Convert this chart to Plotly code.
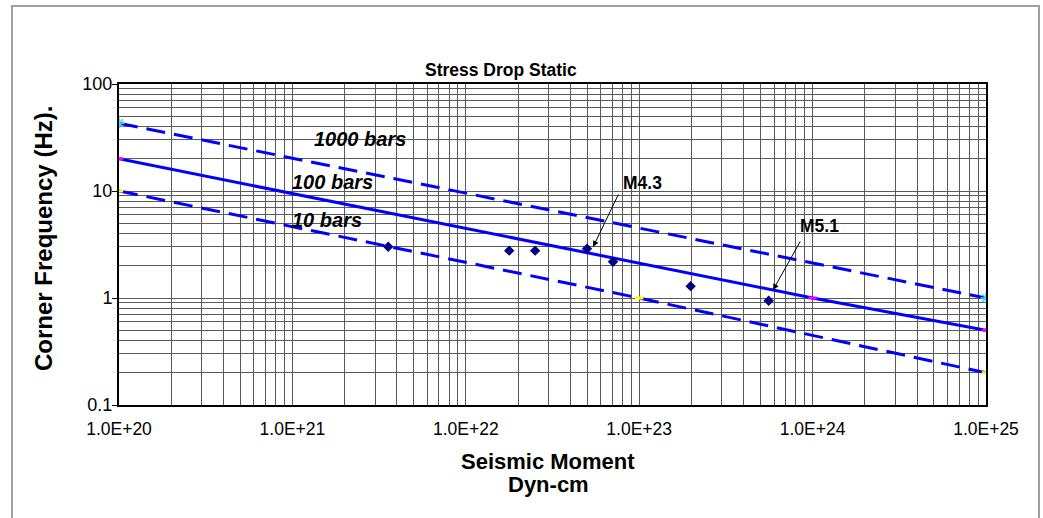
import plotly.graph_objects as go

# ---- data ----
x_1000 = [1e20, 1e25]
y_1000 = [43, 1]
x_100 = [1e20, 1e24, 1e25]
y_100 = [20, 1, 0.5]
x_10 = [1e20, 1e23, 1e25]
y_10 = [10, 1, 0.2]

moment = [3.57e21, 1.78e22, 2.51e22, 5.0e22, 7.06e22, 1.98e23, 5.58e23]
corner = [3.01, 2.77, 2.77, 2.89, 2.18, 1.29, 0.944]

x_tickvals = [1e20, 1e21, 1e22, 1e23, 1e24, 1e25]
x_ticktext = ["1.0E+20", "1.0E+21", "1.0E+22", "1.0E+23", "1.0E+24", "1.0E+25"]
y_tickvals = [0.1, 1, 10, 100]
y_ticktext = ["0.1", "1", "10", "100"]

FONT = "Liberation Sans, Arial, sans-serif"
BLUE = "#0000FF"

# plot-area geometry (px)
W, H = 1043, 518
L, R, T, B = 119, 986, 84, 405

def px_x(p):
    return (p - L) / (R - L)

def px_y(p):
    return (B - p) / (B - T)

fig = go.Figure()

fig.add_trace(go.Scatter(
    x=x_1000, y=y_1000, mode="lines+markers", name="1000 bars",
    line=dict(color=BLUE, width=3, dash="19px,9px"),
    marker=dict(symbol="asterisk-open", size=9, color="#33DDEE",
                line=dict(color="#33DDEE", width=1.5)),
))
fig.add_trace(go.Scatter(
    x=x_100, y=y_100, mode="lines+markers", name="100 bars",
    line=dict(color=BLUE, width=3),
    marker=dict(symbol="line-ew-open", size=6, color="#FF00FF",
                line=dict(color="#FF00FF", width=3)),
))
fig.add_trace(go.Scatter(
    x=x_10, y=y_10, mode="lines+markers", name="10 bars",
    line=dict(color=BLUE, width=3, dash="19px,9px"),
    marker=dict(symbol="line-ew-open", size=6, color="#FFFF00",
                line=dict(color="#FFFF00", width=3)),
))
fig.add_trace(go.Scatter(
    x=moment, y=corner, mode="markers", name="events",
    marker=dict(symbol="diamond", size=8, color="#000080",
                line=dict(width=0)),
))

minor_x = [k * 10.0 ** e for e in range(20, 25) for k in range(2, 10)]
minor_y = [k * 10.0 ** e for e in range(-1, 2) for k in range(2, 10)]
GRID = "#5a5a5a"

fig.update_xaxes(
    type="log", range=[20, 25],
    tickmode="array", tickvals=x_tickvals, ticktext=x_ticktext,
    tickfont=dict(family=FONT, size=17.5, color="black"),
    ticks="", ticklabelstandoff=7,
    showgrid=True, gridcolor=GRID, gridwidth=1,
    minor=dict(tickmode="array", tickvals=minor_x, showgrid=True,
               gridcolor=GRID, gridwidth=1, ticks=""),
    showline=True, linecolor="black", linewidth=2, mirror=True,
    zeroline=False,
)
fig.update_yaxes(
    type="log", range=[-1, 2],
    tickmode="array", tickvals=y_tickvals, ticktext=y_ticktext,
    tickfont=dict(family=FONT, size=18, color="black"),
    ticks="outside", ticklen=5, tickcolor="black", tickwidth=1,
    ticklabelstandoff=-4,
    showgrid=True, gridcolor=GRID, gridwidth=1,
    minor=dict(tickmode="array", tickvals=minor_y, showgrid=True,
               gridcolor=GRID, gridwidth=1, ticks=""),
    showline=True, linecolor="black", linewidth=2, mirror=True,
    zeroline=False,
)

annotations = [
    # title
    dict(text="<b>Stress Drop Static</b>", x=px_x(501), y=px_y(69.5),
         xref="paper", yref="paper", showarrow=False,
         font=dict(family=FONT, size=17.5, color="black"),
         xanchor="center", yanchor="middle"),
    # axis titles
    dict(text="<b>Corner Frequency (Hz).</b>", x=px_x(43), y=px_y(239),
         xref="paper", yref="paper", showarrow=False, textangle=-90,
         font=dict(family=FONT, size=24, color="black"),
         xanchor="center", yanchor="middle"),
    dict(text="<b>Seismic Moment</b>", x=px_x(548), y=px_y(461),
         xref="paper", yref="paper", showarrow=False,
         font=dict(family=FONT, size=22, color="black"),
         xanchor="center", yanchor="middle"),
    dict(text="<b>Dyn-cm</b>", x=px_x(548), y=px_y(484),
         xref="paper", yref="paper", showarrow=False,
         font=dict(family=FONT, size=22, color="black"),
         xanchor="center", yanchor="middle"),
    # line labels
    dict(text="<b><i>1000 bars</i></b>", x=21.390, y=1.486, showarrow=False,
         font=dict(family=FONT, size=20, color="black"),
         xanchor="center", yanchor="middle"),
    dict(text="<b><i>100 bars</i></b>", x=21.231, y=1.084, showarrow=False,
         font=dict(family=FONT, size=20, color="black"),
         xanchor="center", yanchor="middle"),
    dict(text="<b><i>10 bars</i></b>", x=21.200, y=0.726, showarrow=False,
         font=dict(family=FONT, size=20, color="black"),
         xanchor="center", yanchor="middle"),
    # magnitude labels
    dict(text="<b>M4.3</b>", x=23.019, y=1.0794, showarrow=False,
         font=dict(family=FONT, size=17.5, color="black"),
         xanchor="center", yanchor="middle"),
    dict(text="<b>M5.1</b>", x=24.037, y=0.669, showarrow=False,
         font=dict(family=FONT, size=17.5, color="black"),
         xanchor="center", yanchor="middle"),
    # arrows
    dict(text="", x=22.734, y=0.477, ax=26, ay=-54, showarrow=True,
         arrowhead=2, arrowsize=1.2, arrowwidth=1, arrowcolor="black"),
    dict(text="", x=23.772, y=0.075, ax=28, ay=-50, showarrow=True,
         arrowhead=2, arrowsize=1.2, arrowwidth=1, arrowcolor="black"),
]

shapes = [
    dict(type="rect", xref="paper", yref="paper",
         x0=px_x(12), x1=px_x(1039), y0=px_y(540), y1=px_y(6),
         line=dict(color="#a0a0a0", width=2), fillcolor="rgba(0,0,0,0)",
         layer="below"),
]

fig.update_layout(
    width=W, height=H,
    margin=dict(l=L, r=W - R, t=T, b=H - B, autoexpand=False),
    paper_bgcolor="white", plot_bgcolor="white",
    showlegend=False,
    annotations=annotations,
    shapes=shapes,
    font=dict(family=FONT, color="black"),
)

fig.write_html("out.html")
